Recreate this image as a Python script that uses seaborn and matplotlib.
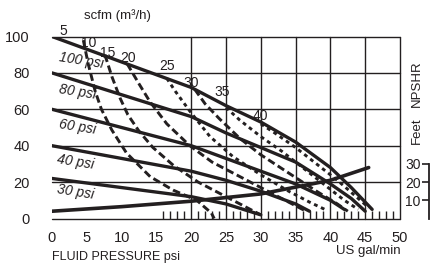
import matplotlib
matplotlib.use("Agg")
import matplotlib.pyplot as plt
import seaborn as sns

# fluid pressure (psi) vs flow (US gal/min) for each air inlet pressure
psi_labels = ["100 psi", "80 psi", "60 psi", "40 psi", "30 psi"]
psi_x = [
    [0, 10, 20, 25, 30, 35, 40, 43, 46],
    [0, 10, 20, 25, 30, 35, 40, 43, 45],
    [0, 10, 20, 25, 30, 35, 40, 42],
    [0, 10, 20, 25, 30, 35, 37],
    [0, 10, 20, 25, 30],
]
psi_y = [
    [100, 86, 72, 62, 53, 42, 28, 17, 5],
    [80, 68, 56, 47, 39, 31, 19, 11, 4],
    [60, 50, 40, 33, 26, 19, 10, 5],
    [40, 33, 26, 21, 15, 8, 4],
    [22, 17, 12, 8, 2],
]

# air consumption curves (scfm)
scfm_labels = ["10", "15", "20", "25", "30", "35", "40"]
scfm_x = [
    [4.5, 5.2, 6.2, 7.1, 8.6, 10.7, 14.1, 17.4, 20.8, 22.9, 23.3],
    [7.6, 8.6, 9.8, 10.9, 12.5, 14.5, 17.5, 21, 24.5, 28, 30],
    [10.8, 12.5, 14.1, 16.5, 19.8, 23, 26.5, 30, 33.5, 36.5],
    [16.5, 17.7, 19.8, 22.7, 26, 30, 34, 37, 39.2],
    [20.5, 22, 24, 27, 30, 34, 38, 41, 42.5],
    [25, 27, 30, 33, 36, 39, 42, 44],
    [30, 32, 35, 38, 41, 44, 45.5],
]
scfm_y = [
    [98, 85, 70, 60, 48.6, 36, 23, 15.6, 10, 3, 0],
    [90, 78, 66, 57, 48, 39, 29, 20, 13, 6, 2],
    [85, 74, 64, 52, 40, 31, 24, 17, 10, 4],
    [77, 70, 59, 45, 34, 24, 15, 9, 5],
    [71, 63, 55, 44, 35, 25, 15, 8, 4],
    [61, 54, 45, 37, 28, 19, 10, 5],
    [52, 47, 39, 30, 21, 11, 6],
]
scfm_dotted = [False, False, False, True, False, True, True]

# NPSHR (feet) vs flow
npshr_x = [0, 10, 20, 30, 40, 45.5]
npshr_y = [4, 6.5, 9.5, 13.5, 21, 28]

x_ticks = [0, 5, 10, 15, 20, 25, 30, 35, 40, 45, 50]
y_ticks = [0, 20, 40, 60, 80, 100]
feet_ticks = [10, 20, 30]

INK = "#231f20"
# label nudges in points (style only)
psi_offsets = [(21, -17), (18, -14), (18, -13), (17, -11.5), (17, -10)]
scfm_offsets = [(3.6, -2), (2, 1.2), (0.7, 4.3), (0, 8.6), (-2.2, 4.7), (-2.9, 11), (0, 5.8)]

sns.set_style("white")
plt.rcParams["font.family"] = ["Liberation Sans", "DejaVu Sans"]

fig = plt.figure(figsize=(4.33, 2.67), dpi=100)
ax = fig.add_axes([52 / 433, 48.5 / 267, 348 / 433, 182 / 267])

# grid: full horizontal lines, vertical only from 20 on
for yv in y_ticks:
    ax.axhline(yv, color=INK, lw=1.0, clip_on=False, zorder=1)
for xv in x_ticks:
    if xv >= 20:
        ax.axvline(xv, color=INK, lw=1.0, clip_on=False, zorder=1)

for lab, xs, ys, off in zip(psi_labels, psi_x, psi_y, psi_offsets):
    sns.lineplot(x=xs, y=ys, ax=ax, color=INK, lw=2.4, sort=False,
                 estimator=None, zorder=3)
    ax.annotate(lab, (xs[0], ys[0]), xytext=off, textcoords="offset points",
                ha="center", va="center", fontsize=10, style="italic",
                rotation=-9, color=INK)

for lab, xs, ys, dotted, off in zip(scfm_labels, scfm_x, scfm_y, scfm_dotted, scfm_offsets):
    ls = (0, (1.3, 1.3)) if dotted else (0, (2.6, 1.3))
    sns.lineplot(x=xs, y=ys, ax=ax, color=INK, lw=2.1, sort=False,
                 estimator=None, linestyle=ls, zorder=3)
    ax.annotate(lab, (xs[0], ys[0]), xytext=off, textcoords="offset points",
                ha="center", va="center", fontsize=10, color=INK)
ax.annotate("5", (psi_x[0][0], psi_y[0][0]), xytext=(8.3, 4), textcoords="offset points",
            ha="center", va="center", fontsize=10, color=INK)

sns.lineplot(x=npshr_x, y=npshr_y, ax=ax, color=INK, lw=2.6, sort=False,
             estimator=None, zorder=3)

ax.set_xlim(0, 50)
ax.set_ylim(0, 100)
ax.set_xticks(x_ticks)
ax.set_yticks(y_ticks)
ax.set_xticks([v for v in range(16, 50) if v % 5], minor=True)
ax.tick_params(axis="both", which="major", length=0, labelsize=10.5, colors=INK)
ax.tick_params(axis="x", which="major", pad=9)
ax.tick_params(axis="y", which="major", pad=16)
ax.tick_params(axis="x", which="minor", bottom=True, direction="in", length=6,
               width=1, color=INK)
for sp in ax.spines.values():
    sp.set_visible(False)

# small NPSHR feet scale on the right
fax = fig.add_axes([429 / 433, 48.5 / 267, 0.001, 182 / 267])
fax.set_ylim(0, 100)
fax.patch.set_visible(False)
for side in ["top", "right", "bottom"]:
    fax.spines[side].set_visible(False)
fax.spines["left"].set_bounds(0, 30)
fax.spines["left"].set_color(INK)
fax.spines["left"].set_linewidth(1.3)
fax.set_xticks([])
fax.set_yticks(feet_ticks)
fax.tick_params(axis="y", left=True, length=5, width=1.2, color=INK, labelsize=10,
                labelcolor=INK, pad=1)

fig.text(117 / 433, 1 - 16 / 267, "scfm (m³/h)", ha="center", va="center",
         fontsize=9.5, color=INK)
fig.text(52 / 433, 1 - 257 / 267, "FLUID PRESSURE psi", ha="left", va="center",
         fontsize=9, color=INK)
fig.text(401 / 433, 1 - 251 / 267, "US gal/min", ha="right", va="center",
         fontsize=9.5, color=INK)
fig.text(417 / 433, 1 - 84 / 267, "NPSHR", ha="center", va="center",
         rotation=90, fontsize=9.5, color=INK)
fig.text(417 / 433, 1 - 131 / 267, "Feet", ha="center", va="center",
         rotation=90, fontsize=9.5, color=INK)

fig.savefig("out.png", dpi=100)
